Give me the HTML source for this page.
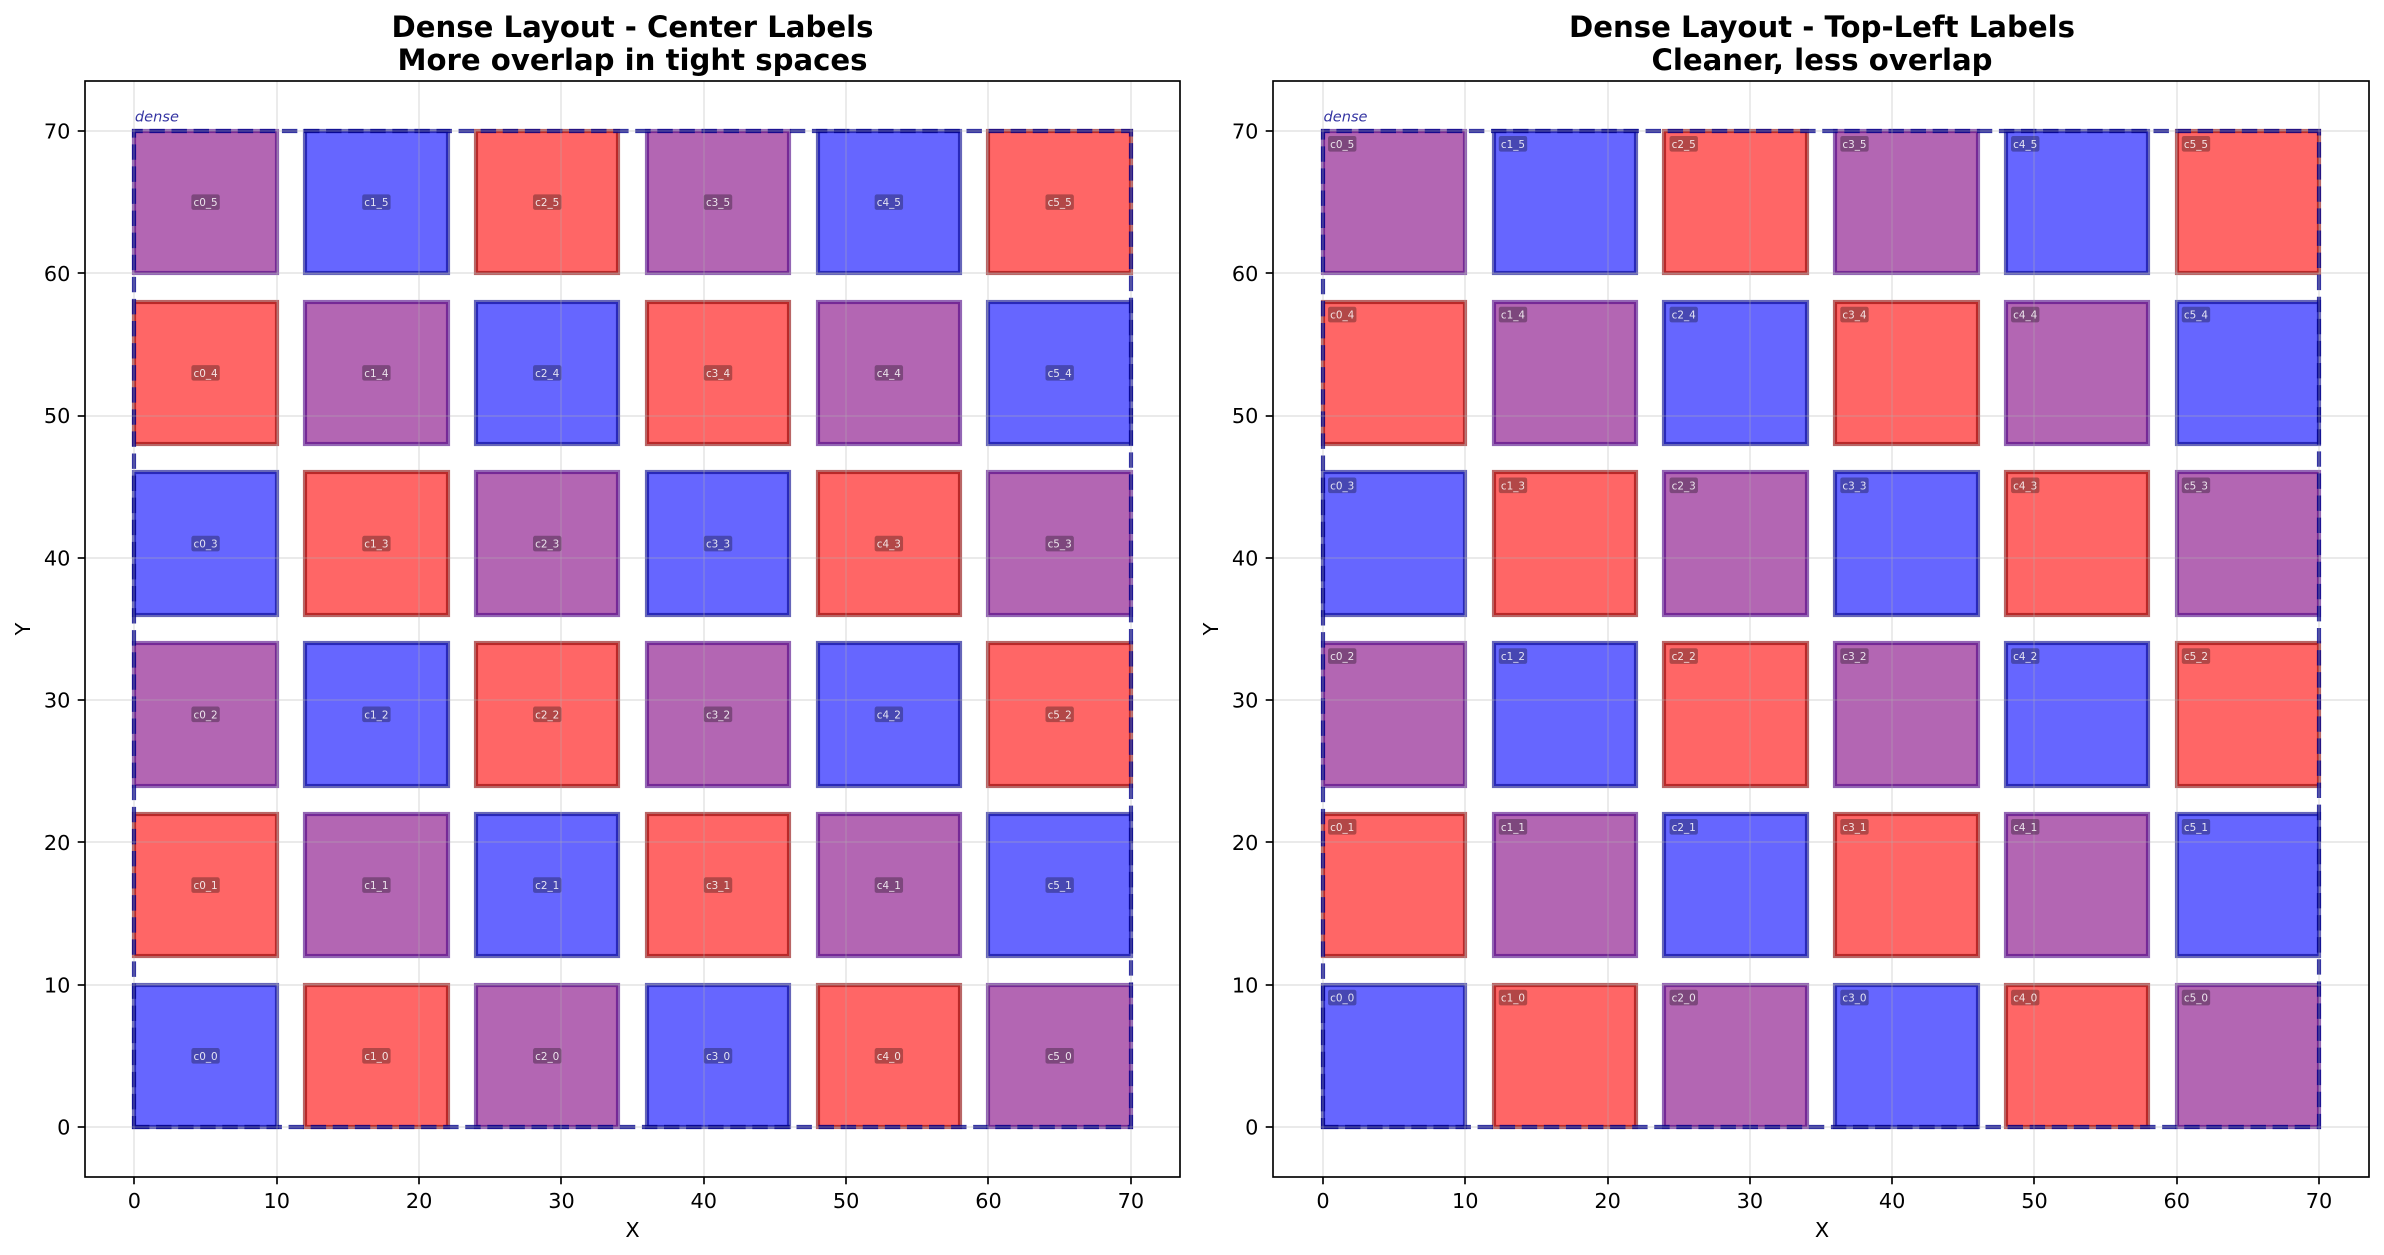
<!DOCTYPE html>
<html lang="en">
<head>
<meta charset="utf-8">
<title>Dense Layout Label Comparison</title>
<style>
html,body{margin:0;padding:0;background:#fff;}
svg{display:block;}
text{font-family:"DejaVu Sans","Liberation Sans",sans-serif;fill:#000;}
.title{font-size:29.17px;font-weight:bold;text-anchor:middle;}
.axis-title{font-size:20.83px;text-anchor:middle;}
</style>
</head>
<body>
<svg id="figure" xmlns="http://www.w3.org/2000/svg" width="2384" height="1255" viewBox="0 0 2384 1255">
  <rect x="0" y="0" width="2384" height="1255" fill="#ffffff"/>
  <g id="panel-center"></g>
  <g id="panel-topleft"></g>
  <text class="title" x="632.5" y="37">Dense Layout - Center Labels</text>
  <text class="title" x="632.5" y="70">More overlap in tight spaces</text>
  <text class="title" x="1822" y="37">Dense Layout - Top-Left Labels</text>
  <text class="title" x="1822" y="70">Cleaner, less overlap</text>
  <text class="axis-title" x="632.5" y="1237">X</text>
  <text class="axis-title" x="1822" y="1237">X</text>
  <text class="axis-title" transform="translate(30 629) rotate(-90)">Y</text>
  <text class="axis-title" transform="translate(1218 629) rotate(-90)">Y</text>
</svg>
<script>
const xTicks = [0, 10, 20, 30, 40, 50, 60, 70];
const yTicks = [0, 10, 20, 30, 40, 50, 60, 70];
const xTickLabels = ["0", "10", "20", "30", "40", "50", "60", "70"];
const yTickLabels = ["0", "10", "20", "30", "40", "50", "60", "70"];
const columnStarts = [0, 12, 24, 36, 48, 60];
const rowStarts = [0, 12, 24, 36, 48, 60];
const cellWidth = 10;
const cellHeight = 10;
const containerBounds = [0, 70];
const containerLabel = "dense";
const containerLabelPosition = [0, 71];
const cellKinds = [
  ["blue", "red", "purple", "blue", "red", "purple"],
  ["red", "purple", "blue", "red", "purple", "blue"],
  ["purple", "blue", "red", "purple", "blue", "red"],
  ["blue", "red", "purple", "blue", "red", "purple"],
  ["red", "purple", "blue", "red", "purple", "blue"],
  ["purple", "blue", "red", "purple", "blue", "red"]
];
const cellLabels = [
  ["c0_0", "c0_1", "c0_2", "c0_3", "c0_4", "c0_5"],
  ["c1_0", "c1_1", "c1_2", "c1_3", "c1_4", "c1_5"],
  ["c2_0", "c2_1", "c2_2", "c2_3", "c2_4", "c2_5"],
  ["c3_0", "c3_1", "c3_2", "c3_3", "c3_4", "c3_5"],
  ["c4_0", "c4_1", "c4_2", "c4_3", "c4_4", "c4_5"],
  ["c5_0", "c5_1", "c5_2", "c5_3", "c5_4", "c5_5"]
];

const fills = { blue: "#0000ff", red: "#ff0000", purple: "#800080" };
const edges = { blue: "#00008b", red: "#8b0000", purple: "#4b0082" };
const SVG_NS = "http://www.w3.org/2000/svg";
const PT = 150 / 72;

function make(tag, parent) {
  const el = document.createElementNS(SVG_NS, tag);
  parent.appendChild(el);
  return el;
}

function drawPanel(groupId, prefix, frame, labelMode) {
  const group = document.getElementById(groupId);
  const px = v => frame.x0 + v * frame.scaleX;
  const py = v => frame.y0 - v * frame.scaleY;
  const sx = v => Math.round(px(v));
  const sy = v => Math.round(py(v));

  columnStarts.forEach((cx, i) => {
    rowStarts.forEach((cy, j) => {
      const kind = cellKinds[i][j];
      const rect = make("rect", group);
      
      
      const left = sx(cx), right = sx(cx + cellWidth);
      const top = sy(cy + cellHeight), bottom = sy(cy);
      rect.setAttribute("x", left);
      rect.setAttribute("y", top);
      rect.setAttribute("width", right - left);
      rect.setAttribute("height", bottom - top);
      rect.setAttribute("fill", fills[kind]);
      rect.setAttribute("fill-opacity", "0.6");
      rect.setAttribute("stroke", edges[kind]);
      rect.setAttribute("stroke-opacity", "0.6");
      rect.setAttribute("stroke-width", 2 * PT);
    });
  });

  const boundary = make("path", group);
  
  
  const b0 = containerBounds[0], b1 = containerBounds[1];
  boundary.setAttribute("d",
    "M" + sx(b0) + " " + sy(b0) + "L" + sx(b1) + " " + sy(b0) +
    "L" + sx(b1) + " " + sy(b1) + "L" + sx(b0) + " " + sy(b1) + "Z");
  boundary.setAttribute("fill", "none");
  boundary.setAttribute("stroke", "#00008b");
  boundary.setAttribute("stroke-opacity", "0.8");
  boundary.setAttribute("stroke-width", 2 * PT);
  boundary.setAttribute("stroke-dasharray", (7.4 * PT) + " " + (3.2 * PT));

  xTicks.forEach(t => {
    const line = make("line", group);
    
    
    line.setAttribute("x1", sx(t));
    line.setAttribute("x2", sx(t));
    line.setAttribute("y1", frame.top);
    line.setAttribute("y2", frame.bottom);
    line.setAttribute("stroke", "#b0b0b0");
    line.setAttribute("stroke-opacity", "0.3");
    line.setAttribute("stroke-width", 0.8 * PT);
  });
  yTicks.forEach(t => {
    const line = make("line", group);
    
    
    line.setAttribute("x1", frame.left);
    line.setAttribute("x2", frame.right);
    line.setAttribute("y1", sy(t));
    line.setAttribute("y2", sy(t));
    line.setAttribute("stroke", "#b0b0b0");
    line.setAttribute("stroke-opacity", "0.3");
    line.setAttribute("stroke-width", 0.8 * PT);
  });

  xTicks.forEach((t, k) => {
    const tick = make("line", group);
    
    
    tick.setAttribute("x1", sx(t));
    tick.setAttribute("x2", sx(t));
    tick.setAttribute("y1", frame.bottom);
    tick.setAttribute("y2", frame.bottom + 3.5 * PT);
    tick.setAttribute("stroke", "#000");
    tick.setAttribute("stroke-width", 0.8 * PT);
    const label = make("text", group);
    
    
    label.setAttribute("x", px(t));
    label.setAttribute("y", 1208);
    label.setAttribute("font-size", "20.83");
    label.setAttribute("text-anchor", "middle");
    label.textContent = xTickLabels[k];
  });
  yTicks.forEach((t, k) => {
    const tick = make("line", group);
    
    
    tick.setAttribute("x1", frame.left);
    tick.setAttribute("x2", frame.left - 3.5 * PT);
    tick.setAttribute("y1", sy(t));
    tick.setAttribute("y2", sy(t));
    tick.setAttribute("stroke", "#000");
    tick.setAttribute("stroke-width", 0.8 * PT);
    const label = make("text", group);
    
    
    label.setAttribute("x", frame.left - 7 * PT);
    label.setAttribute("y", py(t) + 7.6);
    label.setAttribute("font-size", "20.83");
    label.setAttribute("text-anchor", "end");
    label.textContent = yTickLabels[k];
  });

  const spine = make("rect", group);
  
  
  spine.setAttribute("x", frame.left);
  spine.setAttribute("y", frame.top);
  spine.setAttribute("width", frame.right - frame.left);
  spine.setAttribute("height", frame.bottom - frame.top);
  spine.setAttribute("fill", "none");
  spine.setAttribute("stroke", "#000");
  spine.setAttribute("stroke-width", 0.8 * PT);

  columnStarts.forEach((cx, i) => {
    rowStarts.forEach((cy, j) => {
      const boxW = 28.4, boxH = 15.6;
      let boxX, boxY, textX, textY;
      if (labelMode === "center") {
        boxX = px(cx + cellWidth / 2) - boxW / 2;
        boxY = py(cy + cellHeight / 2) - boxH / 2;
      } else {
        boxX = px(cx + 0.5) - 2.08;
        boxY = py(cy + cellHeight - 0.5) - 2.08;
      }
      textX = boxX + boxW / 2;
      textY = boxY + 11.8;
      const box = make("rect", group);
      
      
      box.setAttribute("x", boxX);
      box.setAttribute("y", boxY);
      box.setAttribute("width", boxW);
      box.setAttribute("height", boxH);
      box.setAttribute("rx", "2.2");
      box.setAttribute("fill", "#000");
      box.setAttribute("fill-opacity", "0.3");
      const text = make("text", group);
      
      
      text.setAttribute("x", textX);
      text.setAttribute("y", textY);
      text.setAttribute("font-size", "10.42");
      text.setAttribute("text-anchor", "middle");
      text.style.fill = "#ffffff";
      text.style.fillOpacity = "0.85";
      text.textContent = cellLabels[i][j];
    });
  });

  const tag = make("text", group);
  
  
  tag.setAttribute("x", px(containerLabelPosition[0]) + 0.5);
  tag.setAttribute("y", py(containerLabelPosition[1]) + 5);
  tag.setAttribute("font-size", "14.58");
  tag.setAttribute("font-style", "italic");
  tag.style.fill = "#00008b";
  tag.style.fillOpacity = "0.8";
  tag.textContent = containerLabel;
}

drawPanel("panel-center", "center", {
  left: 85, right: 1180, top: 81, bottom: 1177,
  x0: 134.4, scaleX: 14.235, y0: 1127, scaleY: 14.229
}, "center");
drawPanel("panel-topleft", "top-left", {
  left: 1273, right: 2369, top: 81, bottom: 1177,
  x0: 1323, scaleX: 14.229, y0: 1127, scaleY: 14.229
}, "topleft");
</script>
</body>
</html>
